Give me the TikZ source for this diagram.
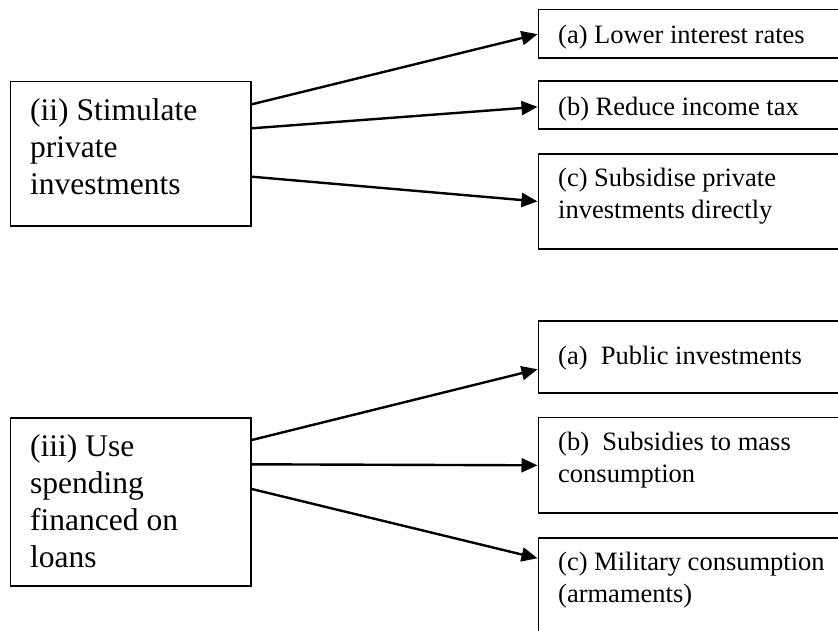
\documentclass[tikz,border=0pt]{standalone}
\usepackage{fontspec}
\setmainfont{Liberation Serif}
\usetikzlibrary{arrows.meta}
\newcommand{\mylines}[1]{\begin{tabular}[t]{@{}l@{}}#1\end{tabular}}
\begin{document}
\begin{tikzpicture}[x=1pt,y=-1pt,
  box/.style={draw, line width=1.8pt, rectangle, inner sep=0pt, anchor=north west},
  ltext/.style={anchor=base west, inner sep=0pt, font=\fontsize{31.5}{37}\selectfont},
  rtext/.style={anchor=base west, inner sep=0pt, font=\fontsize{26.5}{32}\selectfont},
  arr/.style={line width=2.4pt, -{Triangle[length=16pt,width=14pt]}}]
\useasboundingbox (0,0) rectangle (838,630);
\clip (0,0) rectangle (838,630);
% left boxes
\node[box, minimum width=240.5pt, minimum height=144.5pt] (L1) at (9.5,80.5) {};
\node[box, minimum width=240.5pt, minimum height=168.5pt] (L2) at (9.5,416.7) {};
% right boxes
\node[box, minimum width=340pt, minimum height=48.2pt] (R1) at (537.5,8.5) {};
\node[box, minimum width=340pt, minimum height=48.3pt] (R2) at (537.5,80) {};
\node[box, minimum width=340pt, minimum height=95.6pt] (R3) at (537.5,152.7) {};
\node[box, minimum width=340pt, minimum height=71.7pt] (R4) at (537.5,320) {};
\node[box, minimum width=340pt, minimum height=95.8pt] (R5) at (537.5,416.5) {};
\node[box, minimum width=340pt, minimum height=120pt] (R6) at (537.5,536.7) {};
% texts
\node[ltext] (TL1) at ([xshift=20.5pt,yshift=-39.5pt]L1.north west) {\mylines{(ii) Stimulate\\private\\investments}};
\node[ltext] (TL2) at ([xshift=20.5pt,yshift=-40pt]L2.north west) {\mylines{(iii) Use\\spending\\financed on\\loans}};
\node[rtext] (TR1) at ([xshift=20.5pt,yshift=-35pt]R1.north west) {(a) Lower interest rates};
\node[rtext] (TR2) at ([xshift=20.5pt,yshift=-35pt]R2.north west) {(b) Reduce income tax};
\node[rtext] (TR3) at ([xshift=20.5pt,yshift=-34pt]R3.north west) {\mylines{(c) Subsidise private\\investments directly}};
\node[rtext] (TR4) at ([xshift=20.5pt,yshift=-44pt]R4.north west) {(a)\ \ Public investments};
\node[rtext] (TR5) at ([xshift=20.5pt,yshift=-33.5pt]R5.north west) {\mylines{(b)\ \ Subsidies to mass\\consumption}};
\node[rtext] (TR6) at ([xshift=20.5pt,yshift=-33.3pt]R6.north west) {\mylines{(c) Military consumption\\(armaments)}};
% arrows
\draw[arr] ([yshift=-23.8pt]L1.north east) -- ([yshift=-0.7pt]R1.west);
\draw[arr] ([yshift=-47.8pt]L1.north east) -- ([yshift=-1.8pt]R2.west);
\draw[arr] ([yshift=-96.2pt]L1.north east) -- (R3.west);
\draw[arr] ([yshift=-23.3pt]L2.north east) -- ([yshift=-12.5pt]R4.west);
\draw[arr] ([yshift=-47.6pt]L2.north east) -- (R5.west);
\draw[arr] ([yshift=-72.3pt]L2.north east) -- ([yshift=-21.6pt]R6.north west);
\end{tikzpicture}
\end{document}
